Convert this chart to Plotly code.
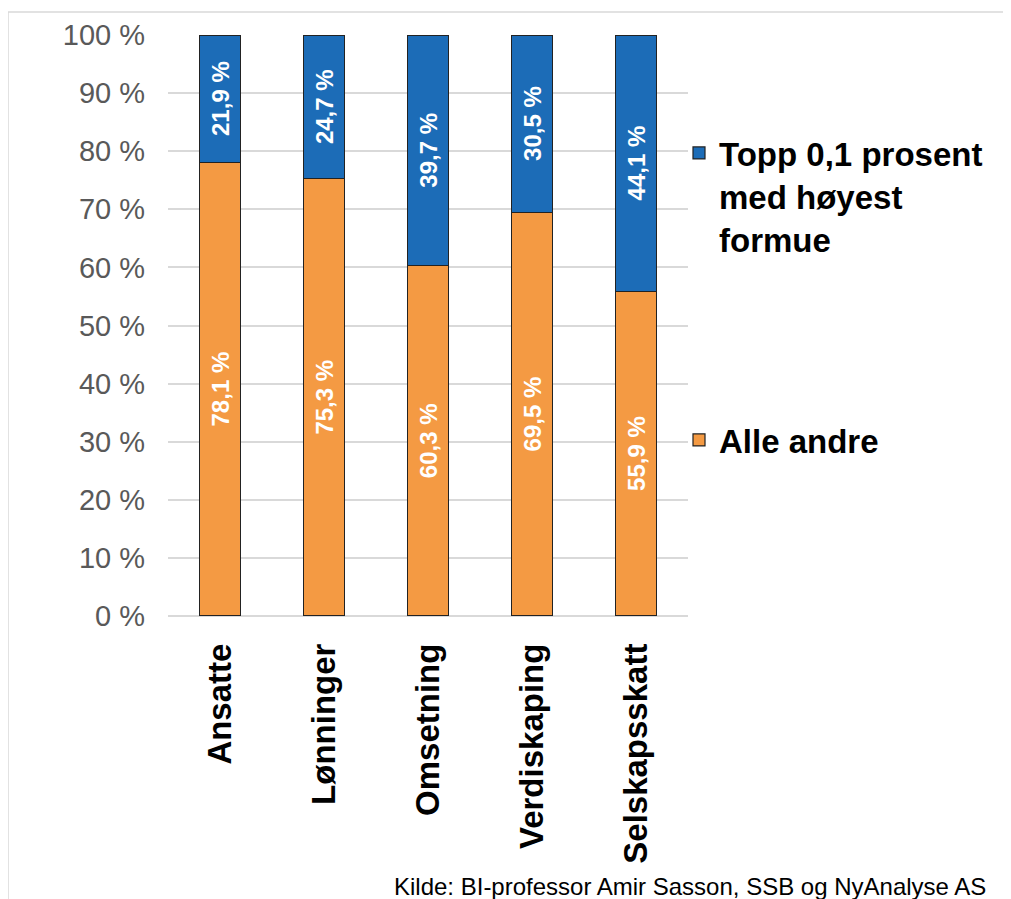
import plotly.graph_objects as go

categories = ["Ansatte", "Lønninger", "Omsetning", "Verdiskaping", "Selskapsskatt"]
alle_andre = [78.1, 75.3, 60.3, 69.5, 55.9]
topp = [21.9, 24.7, 39.7, 30.5, 44.1]
y_ticks = [0, 10, 20, 30, 40, 50, 60, 70, 80, 90, 100]
y_ticktext = [f"{v} %" for v in y_ticks]
name_alle = "Alle andre"
name_topp = "Topp 0,1 prosent<br>med høyest<br>formue"
source = "Kilde: BI-professor Amir Sasson, SSB og NyAnalyse AS"

ORANGE = "#F49A43"
BLUE = "#1C6CB7"
FONT = "Liberation Sans, Arial, Helvetica, sans-serif"

def fmt(v):
    return f"{v:.1f} %".replace(".", ",")

# page offset (body margin) compensation
OFF = 8
W, H = 1011 - OFF, 899 - OFF
# plot area in reference page pixels
L, R, T, B = 168, 688, 35, 616
def px(x):
    return (x - L) / (R - L)
def py(y):
    return (B - y) / (B - T)

fig = go.Figure()
fig.add_trace(go.Bar(
    x=categories, y=alle_andre, name=name_alle, marker_color=ORANGE,
    marker_line=dict(color="#222222", width=1.2), width=0.4,
    text=[fmt(v) for v in alle_andre], textposition="inside",
    insidetextanchor="middle", textangle=-90, constraintext="none",
    textfont=dict(color="white", size=24, family=FONT, weight="bold"),
    legend="legend2", showlegend=True, hoverinfo="skip",
))
fig.add_trace(go.Bar(
    x=categories, y=topp, name=name_topp, marker_color=BLUE,
    marker_line=dict(color="#222222", width=1.2), width=0.4,
    text=[fmt(v) for v in topp], textposition="inside",
    insidetextanchor="middle", textangle=-90, constraintext="none",
    textfont=dict(color="white", size=24, family=FONT, weight="bold"),
    legend="legend", showlegend=True, hoverinfo="skip",
))

fig.update_layout(
    barmode="stack",
    showlegend=True,
    width=W, height=H,
    margin=dict(l=L - OFF, r=1011 - R, t=T - OFF, b=899 - B, autoexpand=False),
    paper_bgcolor="white", plot_bgcolor="white",
    font=dict(family=FONT, color="#000000"),
    xaxis=dict(
        tickangle=-90, ticks="", showgrid=False, showline=False,
        tickfont=dict(size=33, color="#000000", family=FONT, weight="bold"),
        ticklabelstandoff=20,
    ),
    yaxis=dict(
        range=[0, 100], tickvals=y_ticks, ticktext=y_ticktext,
        showgrid=True, gridcolor="#D9D9D9", gridwidth=1.5,
        zeroline=True, zerolinecolor="#D9D9D9", zerolinewidth=1.5,
        showline=False, ticks="",
        tickfont=dict(size=29, color="#595959", family=FONT),
        ticklabelstandoff=22,
    ),
    legend=dict(
        x=px(679), y=py(125), xanchor="left", yanchor="top",
        valign="top", bgcolor="rgba(0,0,0,0)",
        font=dict(size=33, color="#000000", family=FONT, weight="bold"),
        itemwidth=30, tracegroupgap=0,
    ),
    legend2=dict(
        x=px(679), y=py(412), xanchor="left", yanchor="top",
        valign="top", bgcolor="rgba(0,0,0,0)",
        font=dict(size=33, color="#000000", family=FONT, weight="bold"),
        itemwidth=30,
    ),
    shapes=[
        dict(type="line", xref="paper", yref="paper",
             x0=px(8), x1=px(8), y0=py(12), y1=py(905),
             line=dict(color="#D9D9D9", width=1.5)),
        dict(type="line", xref="paper", yref="paper",
             x0=px(8), x1=px(1015), y0=py(12), y1=py(12),
             line=dict(color="#D9D9D9", width=1.5)),
    ],
    annotations=[
        dict(text=source, xref="paper", yref="paper",
             x=px(392), y=py(886), xanchor="left", yanchor="middle",
             showarrow=False,
             font=dict(size=24, color="#000000", family=FONT)),
    ],
)

fig.write_html("out.html")
